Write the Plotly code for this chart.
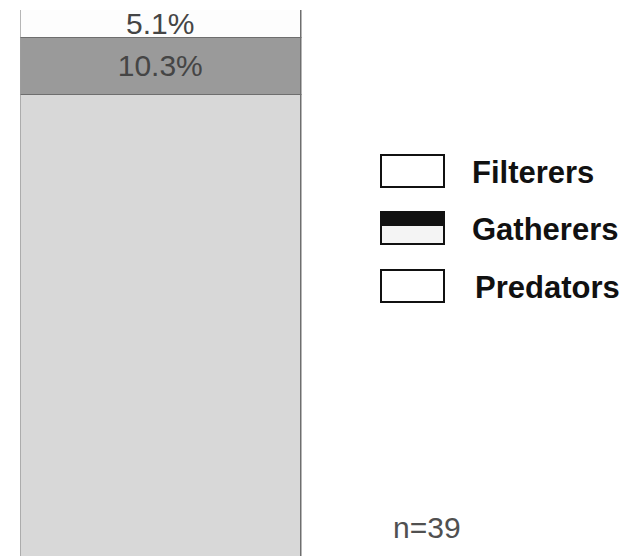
import plotly.graph_objects as go

W, H = 628, 556

groups = ["Predators", "Gatherers", "Filterers"]          # stacking order, bottom to top
percents = [84.6, 10.3, 5.1]
colors = {"Predators": "#d8d8d8", "Gatherers": "#9a9a9a", "Filterers": "#fdfdfd"}
labels = {"Predators": "", "Gatherers": "10.3%", "Filterers": "5.1%"}
legend_items = ["Filterers", "Gatherers", "Predators"]
sample_label = "n=39"

FONT = "Liberation Sans, Arial"

fig = go.Figure()
for g, v in zip(groups, percents):
    fig.add_trace(go.Bar(
        x=["All"], y=[v], name=g,
        marker=dict(color=colors[g], line=dict(color="#6e6e6e", width=1.5)),
        text=[labels[g]], textposition="inside", insidetextanchor="middle",
        constraintext="none", cliponaxis=False,
        textfont=dict(family=FONT, size=30, color="#454545"),
        textangle=0, showlegend=False, width=1.0,
    ))

# legend drawn by hand (large boxes like the reference)
box_top = [155, 212, 270]
box_h = 32
text_x = [470, 470, 473]
for name, bt, tx in zip(legend_items, box_top, text_x):
    fig.add_shape(type="rect", xref="paper", yref="paper",
                  x0=381 / W, x1=444 / W, y0=1 - bt / H, y1=1 - (bt + box_h) / H,
                  line=dict(color="#111111", width=2),
                  fillcolor="#ffffff" if name != "Gatherers" else "#f4f4f4")
    if name == "Gatherers":
        fig.add_shape(type="rect", xref="paper", yref="paper",
                      x0=381 / W, x1=444 / W, y0=1 - bt / H, y1=1 - (bt + 14) / H,
                      line=dict(width=0), fillcolor="#111111")
    fig.add_annotation(x=tx / W, y=1 - (bt + box_h / 2 + 1) / H, xref="paper", yref="paper",
                       text="<b>%s</b>" % name, showarrow=False, xanchor="left",
                       yanchor="middle",
                       font=dict(family=FONT, size=31, color="#111111"))

fig.add_annotation(x=391 / W, y=1 - 527 / H, xref="paper", yref="paper",
                   text=sample_label, showarrow=False, xanchor="left", yanchor="middle",
                   font=dict(family=FONT, size=30, color="#505050"))

fig.update_layout(
    width=W, height=H, margin=dict(l=0, r=0, t=0, b=0),
    paper_bgcolor="white", plot_bgcolor="white",
    barmode="stack", bargap=0,
    xaxis=dict(domain=[20.5 / W, 301.5 / W], visible=False, range=[-0.5, 0.5]),
    yaxis=dict(domain=[0, 1 - 10 / H], visible=False, range=[0.9, 100]),
)

fig.write_html("out.html")
